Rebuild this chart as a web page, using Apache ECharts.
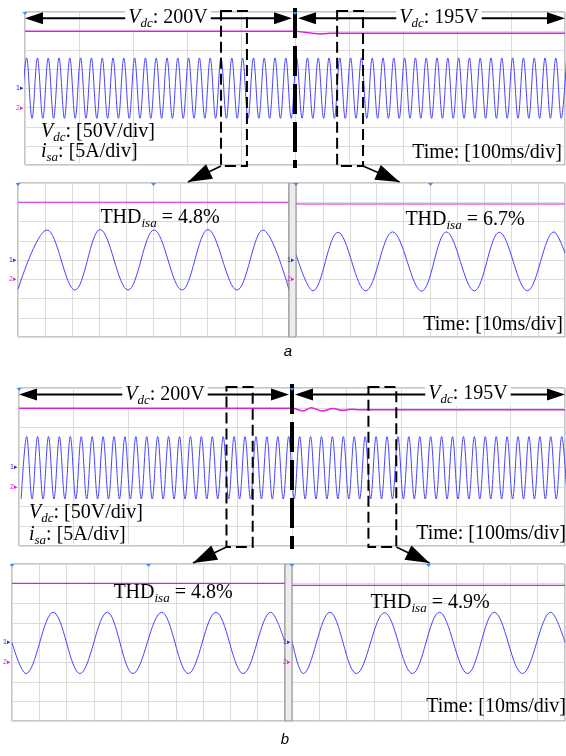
<!DOCTYPE html>
<html>
<head>
    <meta charset="utf-8">
    <title>Vdc step response</title>
    <script src="https://cdn.jsdelivr.net/npm/echarts@6/dist/echarts.min.js" type="text/javascript" charset="utf-8"></script>
    <style>
        html, body { margin: 0; padding: 0; background: #fff; }
        #main { width: 566px; height: 756px; }
    </style>
</head>
<body>
<div id="main"></div>
<script type="text/javascript">

    // ---- data ----
    // scales: Vdc 50 V/div (ground 1 div below centre), isa 5 A/div
    var vScale = 50, vOffset = -1, iScale = 5;
    var stepTime = 500;              // ms, Vdc reference step 200 V -> 195 V
    var halfPeriod = 10;             // ms, 50 Hz supply current

    // top traces (100 ms/div)
    var vdcTopATime = [0, 500, 533, 546, 565, 1000];
    var vdcTopA     = [200, 200, 194.5, 192.5, 194.5, 194.5];
    var vdcTopBTime = [0, 500, 520, 535, 556, 575, 593, 608, 625, 1000];
    var vdcTopB     = [199, 199, 192, 200, 192, 198, 193.5, 196.5, 195, 195];

    // isa positive / negative peaks for each 100 ms division (A)
    var isaTopAPeak   = [8.0, 8.0, 8.0, 8.0, 8.0, 8.0, 8.0, 8.0, 8.0, 8.0];
    var isaTopATrough = [-7.8, -7.8, -7.8, -7.8, -7.8, -7.8, -7.8, -7.8, -7.8, -7.8];
    var isaTopBPeak   = [7.7, 7.7, 7.7, 7.7, 7.7, 7.7, 7.7, 7.7, 7.7, 7.7];
    var isaTopBTrough = [-8.1, -8.1, -8.1, -8.1, -8.1, -8.1, -8.1, -8.1, -8.1, -8.1];
    var isaTopAFirstPeak = 3, isaTopBFirstPeak = 14;   // ms

    // zoomed traces (10 ms/div): isa extremes
    var lowA1Time = [0, 10.7, 21.0, 30.3, 40.6, 50.2, 60.5, 70.1, 80.8, 90.4, 100];
    var lowA1Isa  = [-7.6, 7.8, -7.8, 7.9, -7.8, 7.8, -7.8, 7.9, -7.8, 7.8, -7.7];
    var lowA2Time = [0, 6.3, 15.6, 25.9, 35.9, 46.7, 55.9, 66.3, 75.6, 86.0, 95.9, 100];
    var lowA2Isa  = [1.5, -8.0, 7.2, -8.0, 7.3, -8.1, 7.3, -8.0, 7.2, -8.0, 7.3, 1.8];
    var lowB1Time = [0, 5.1, 15.1, 24.9, 34.9, 44.3, 54.8, 64.6, 74.7, 84.7, 94.8, 100];
    var lowB1Isa  = [0, -7.9, 7.7, -7.9, 7.7, -7.9, 7.7, -7.9, 7.7, -7.9, 7.7, 0];
    var lowB2Time = [0, 4.1, 13.9, 23.6, 33.9, 44.1, 54.0, 64.3, 74.1, 84.4, 94.8, 100];
    var lowB2Isa  = [0.5, -7.9, 7.7, -7.9, 7.6, -7.9, 7.7, -7.9, 7.7, -7.9, 7.7, 0];
    // zoomed traces: Vdc (V)
    var vdcLow = [200, 195.5, 200.5, 195.5];

    // zoom windows marked on the top traces (ms) and THD of each zoom
    var zoomWindowsA = [[363, 411], [578, 626]];
    var zoomWindowsB = [[380, 428], [640, 691]];
    var thdLabels = ['4.8%', '6.7%', '4.8%', '4.9%'];

    // ---- layout ----
    var panels = [
        {left: 25, top: 12, width: 540, height: 153, span: 1000},
        {left: 18, top: 183, width: 271, height: 154, span: 100},
        {left: 296, top: 183, width: 269, height: 154, span: 100},
        {left: 19, top: 388, width: 546, height: 158, span: 1000},
        {left: 12, top: 564, width: 273, height: 157, span: 100},
        {left: 292, top: 564, width: 273, height: 157, span: 100}
    ];
    var magenta = '#e01ee0', blue = '#4646ff', gridCol = '#dcdcdc';
    var serif = 'Liberation Serif';

    function toV(v) { return v / vScale + vOffset; }
    function toI(a) { return a / iScale; }
    function pairs(ts, vs, f) { return ts.map(function (t, i) { return [t, f(vs[i])]; }); }
    function topWave(firstPeak, peaks, troughs) {
        var pts = [];
        for (var k = -1; ; k++) {
            var t = firstPeak + halfPeriod * k;
            if (t > 1000 + halfPeriod) break;
            var d = Math.min(9, Math.max(0, Math.floor(t / 100)));
            pts.push([t, toI(k % 2 === 0 ? peaks[d] : troughs[d])]);
        }
        return pts;
    }

    var myChart = echarts.init(document.getElementById('main'));

    var grids = [], xAxes = [], yAxes = [], series = [];
    var hidden = {axisLine: {show: false}, axisTick: {show: false}, axisLabel: {show: false}};
    panels.forEach(function (p, i) {
        grids.push({left: p.left, top: p.top, width: p.width, height: p.height, show: true,
            borderColor: '#8c8c8c', borderWidth: 1, backgroundColor: '#fff'});
        xAxes.push(Object.assign({gridIndex: i, type: 'value', min: 0, max: p.span, interval: p.span / 10,
            splitLine: {show: true, lineStyle: {color: gridCol, width: 1}}}, hidden));
        yAxes.push(Object.assign({gridIndex: i, type: 'value', min: -4, max: 4, interval: 1,
            splitLine: {show: true, lineStyle: {color: gridCol, width: 1}}}, hidden));
    });

    function addLine(gi, data, color, width, smooth) {
        series.push({type: 'line', xAxisIndex: gi, yAxisIndex: gi, data: data, symbol: 'none',
            smooth: smooth, lineStyle: {color: color, width: width}, silent: true, animation: false});
    }
    // top a / top b
    addLine(0, pairs(vdcTopATime, vdcTopA, toV), magenta, 1.5, false);
    addLine(0, topWave(isaTopAFirstPeak, isaTopAPeak, isaTopATrough), blue, 1, 0.36);
    addLine(3, pairs(vdcTopBTime, vdcTopB, toV), magenta, 1.5, 0.4);
    addLine(3, topWave(isaTopBFirstPeak, isaTopBPeak, isaTopBTrough), blue, 1, 0.36);
    // zoomed
    var lows = [[1, lowA1Time, lowA1Isa], [2, lowA2Time, lowA2Isa], [4, lowB1Time, lowB1Isa], [5, lowB2Time, lowB2Isa]];
    lows.forEach(function (l, j) {
        addLine(l[0], [[0, toV(vdcLow[j])], [100, toV(vdcLow[j])]], magenta, 1.2, false);
        addLine(l[0], pairs(l[1], l[2], toI), blue, 1, 0.36);
    });

    myChart.setOption({animation: false, grid: grids, xAxis: xAxes, yAxis: yAxes, series: series});

    // ---- annotations ----
    function px(gi, t, d) { return myChart.convertToPixel({gridIndex: gi}, [t, d]); }
    var g = [];
    function head(tip, from, len, half) {
        var dx = tip[0] - from[0], dy = tip[1] - from[1], L = Math.sqrt(dx * dx + dy * dy);
        var ux = dx / L, uy = dy / L, bx = tip[0] - ux * len, by = tip[1] - uy * len;
        g.push({type: 'polygon', z: 110, shape: {points: [tip, [bx - uy * half, by + ux * half], [bx + uy * half, by - ux * half]]},
            style: {fill: '#000'}});
    }
    function seg(a, b, w, dash) {
        g.push({type: 'line', z: 105, shape: {x1: a[0], y1: a[1], x2: b[0], y2: b[1]},
            style: {stroke: '#000', lineWidth: w, lineDash: dash || null}});
    }
    var rich = {
        it: {fontFamily: serif, fontStyle: 'italic', fontSize: 20, lineHeight: 24},
        n: {fontFamily: serif, fontSize: 20, lineHeight: 24},
        sub: {fontFamily: serif, fontStyle: 'italic', fontSize: 13, lineHeight: 13, verticalAlign: 'bottom'}
    };
    function label(x, y, text, align, bg) {
        g.push({type: 'text', z: 120, x: x, y: y, style: {text: text, rich: rich, fill: '#000',
            align: align, textAlign: align, verticalAlign: 'middle', textVerticalAlign: 'middle',
            backgroundColor: bg ? '#fff' : null, padding: bg ? [0, 3] : 0}});
    }

    // gaps between the two zoom panels
    [[289, 183, 7, 154], [285, 564, 7, 157]].forEach(function (r) {
        g.push({type: 'rect', z: 90, shape: {x: r[0], y: r[1], width: r[2], height: r[3]},
            style: {fill: '#ececec', stroke: '#8c8c8c', lineWidth: 1}});
    });

    [[0, zoomWindowsA, [1, 2], [62.7, 38.5]], [3, zoomWindowsB, [4, 5], [66.3, 50.4]]].forEach(function (cfg) {
        var gi = cfg[0], p = panels[gi];
        var y = px(gi, 0, 3.67)[1];
        var xL = px(gi, 0, 0)[0], xS = px(gi, stepTime, 0)[0], xR = px(gi, 1000, 0)[0];
        // double arrows either side of the step
        seg([xL + 8, y], [xS - 10, y], 2);
        head([xL, y], [xS, y], 18, 6); head([xS - 3, y], [xL, y], 18, 6);
        seg([xS + 10, y], [xR - 8, y], 2);
        head([xS + 3, y], [xR, y], 18, 6); head([xR, y], [xS, y], 18, 6);
        // step instant
        seg([xS, p.top - 4], [xS, p.top + p.height + 3], 4, [30, 8]);
        // zoom windows and arrows to the zoomed panels
        cfg[1].forEach(function (w, k) {
            var x0 = px(gi, w[0], 0)[0], x1 = px(gi, w[1], 0)[0];
            var yb = p.top + p.height + 1;
            g.push({type: 'rect', z: 100, shape: {x: x0, y: p.top - 1, width: x1 - x0, height: p.height + 2},
                style: {fill: null, stroke: '#000', lineWidth: 2, lineDash: [11, 5]}});
            var low = cfg[2][k];
            var tip = px(low, cfg[3][k], 4); tip[1] -= 1;
            var from = k === 0 ? [x0, yb] : [x1, yb];
            seg(from, tip, 1.5);
            head(tip, from, 24, 8);
        });
    });

    // text
    label(168, 18, '{it|V}{sub|dc}{n|: 200V}', 'center', true);
    label(439, 18, '{it|V}{sub|dc}{n|: 195V}', 'center', true);
    label(41, 132, '{it|V}{sub|dc}{n|: [50V/div]}', 'left');
    label(41, 152, '{it|i}{sub|sa}{n|: [5A/div]}', 'left');
    label(562, 153, '{n|Time: [100ms/div]}', 'right');
    label(165, 395, '{it|V}{sub|dc}{n|: 200V}', 'center', true);
    label(468, 394, '{it|V}{sub|dc}{n|: 195V}', 'center', true);
    label(29, 513, '{it|V}{sub|dc}{n|: [50V/div]}', 'left');
    label(29, 535, '{it|i}{sub|sa}{n|: [5A/div]}', 'left');
    label(566, 534, '{n|Time: [100ms/div]}', 'right');
    label(160, 218, '{n|THD}{sub|isa}{n| = ' + thdLabels[0] + '}', 'center');
    label(465, 220, '{n|THD}{sub|isa}{n| = ' + thdLabels[1] + '}', 'center');
    label(173, 593, '{n|THD}{sub|isa}{n| = ' + thdLabels[2] + '}', 'center');
    label(430, 603, '{n|THD}{sub|isa}{n| = ' + thdLabels[3] + '}', 'center');
    label(563, 325, '{n|Time: [10ms/div]}', 'right');
    label(566, 707, '{n|Time: [10ms/div]}', 'right');

    // channel markers and trigger markers
    panels.forEach(function (p, i) {
        var c = px(i, 0, 0), gnd = px(i, 0, vOffset);
        g.push({type: 'text', z: 120, x: c[0] - 1, y: c[1], style: {text: '1\u25b8', fill: '#2b2bd8',
            font: '7px Liberation Sans', align: 'right', textAlign: 'right', verticalAlign: 'middle', textVerticalAlign: 'middle'}});
        g.push({type: 'text', z: 120, x: gnd[0] - 1, y: gnd[1], style: {text: '2\u25b8', fill: '#e01ee0',
            font: '7px Liberation Sans', align: 'right', textAlign: 'right', verticalAlign: 'middle', textVerticalAlign: 'middle'}});
        [0, p.span / 2].forEach(function (t) {
            var q = px(i, t, 4);
            g.push({type: 'polygon', z: 115, shape: {points: [[q[0] - 2.5, q[1]], [q[0] + 2.5, q[1]], [q[0], q[1] + 3]]},
                style: {fill: '#3a8ee6'}});
        });
    });

    ['a', 'b'].forEach(function (s, k) {
        g.push({type: 'text', z: 120, x: k ? 285 : 288, y: k ? 740 : 352, style: {text: s, fill: '#000',
            font: 'italic 15px Liberation Sans', align: 'center', textAlign: 'center', verticalAlign: 'middle', textVerticalAlign: 'middle'}});
    });

    myChart.setOption({graphic: g});
</script>
</body>
</html>
